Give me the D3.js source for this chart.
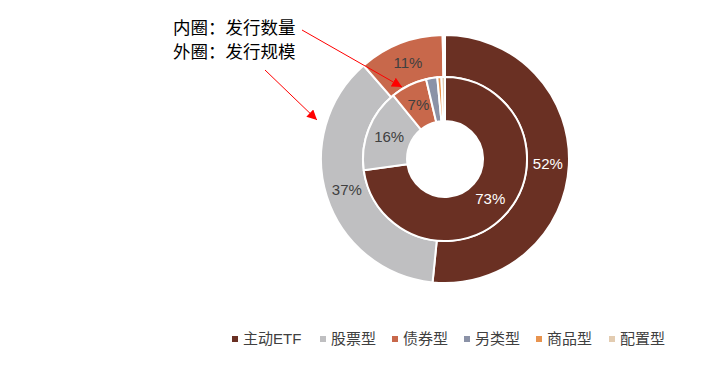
<!DOCTYPE html>
<meta charset="utf-8" />
<style>
  body { margin: 0; background: #fff; }
  text { font-family: "Liberation Sans", Arial, "Noto Sans CJK SC", sans-serif; }
  .note { font-family: "Noto Sans CJK SC", sans-serif; font-size: 17.5px; fill: #000; }
  .legend text { font-family: "Liberation Sans", "Noto Sans CJK SC", sans-serif; font-size: 15px; fill: #404040; }
</style>
<svg width="707" height="376"></svg>
<script src="https://d3js.org/d3.v7.min.js"></script>
<script>
  const categories = ['主动ETF', '股票型', '债券型', '另类型', '商品型', '配置型'];
  const outerValues = [51.6, 37.0, 11.1, 0.15, 0.05, 0.1]; // 发行规模
  const innerValues = [72.8, 16.3, 7.2, 2.2, 0.8, 0.7];   // 发行数量
  const colors = ['#6a3023', '#bfbfc1', '#c8684b', '#8b92a7', '#e8944f', '#e3ccb1'];

  const svg = d3.select('svg');
  const cx = 445, cy = 159;

  const color = d3.scaleOrdinal().domain(categories).range(colors);
  const pie = d3.pie().sort(null).value(d => d.value);

  const rings = [
    { name: 'outer', values: outerValues, r0: 82, r1: 124 },
    { name: 'inner', values: innerValues, r0: 38, r1: 82 }
  ];

  const g = svg.append('g').attr('transform', `translate(${cx},${cy})`);

  rings.forEach(ring => {
    const arc = d3.arc().innerRadius(ring.r0).outerRadius(ring.r1);
    const data = pie(categories.map((c, i) => ({ cat: c, value: ring.values[i] })));
    const rg = g.append('g').attr('class', ring.name);
    rg.selectAll('path')
      .data(data)
      .join('path')
      .attr('d', arc)
      .attr('fill', d => color(d.data.cat))
      .attr('stroke', '#fff')
      .attr('stroke-width', 2)
      .attr('stroke-linejoin', 'round');
    rg.selectAll('text')
      .data(data.filter(d => d.data.value >= 5))
      .join('text')
      .attr('transform', d => `translate(${arc.centroid(d)})`)
      .attr('text-anchor', 'middle')
      .attr('dy', '0.35em')
      .attr('font-size', 15)
      .attr('fill', d => d.data.cat === '主动ETF' ? '#fff' : '#404040')
      .text(d => Math.round(d.data.value) + '%');
  });

  // annotations
  svg.append('defs').append('marker')
    .attr('id', 'arrow')
    .attr('viewBox', '0 0 10 10')
    .attr('refX', 10).attr('refY', 5)
    .attr('markerWidth', 10).attr('markerHeight', 10)
    .attr('markerUnits', 'userSpaceOnUse')
    .attr('orient', 'auto')
    .append('path')
    .attr('d', 'M0,0L10,5L0,10z')
    .attr('fill', '#ff0000');

  svg.append('text').attr('class', 'note').attr('x', 173).attr('y', 34).text('内圈：发行数量');
  svg.append('text').attr('class', 'note').attr('x', 173).attr('y', 58).text('外圈：发行规模');

  const arrows = [[302, 30, 402, 87], [265, 70, 317, 120]];
  svg.selectAll('line.arrow')
    .data(arrows)
    .join('line')
    .attr('class', 'arrow')
    .attr('x1', d => d[0]).attr('y1', d => d[1])
    .attr('x2', d => d[2]).attr('y2', d => d[3])
    .attr('stroke', '#ff0000')
    .attr('stroke-width', 1)
    .attr('marker-end', 'url(#arrow)');

  // legend
  const legendX = [232, 320, 392, 464, 536, 609];
  const legend = svg.append('g').attr('class', 'legend');
  const item = legend.selectAll('g')
    .data(categories)
    .join('g')
    .attr('transform', (d, i) => `translate(${legendX[i]},339)`);
  item.append('rect')
    .attr('x', 0).attr('y', -3)
    .attr('width', 6).attr('height', 6)
    .attr('fill', d => color(d));
  item.append('text')
    .attr('x', 11)
    .attr('dy', '0.35em')
    .text(d => d);
</script>
